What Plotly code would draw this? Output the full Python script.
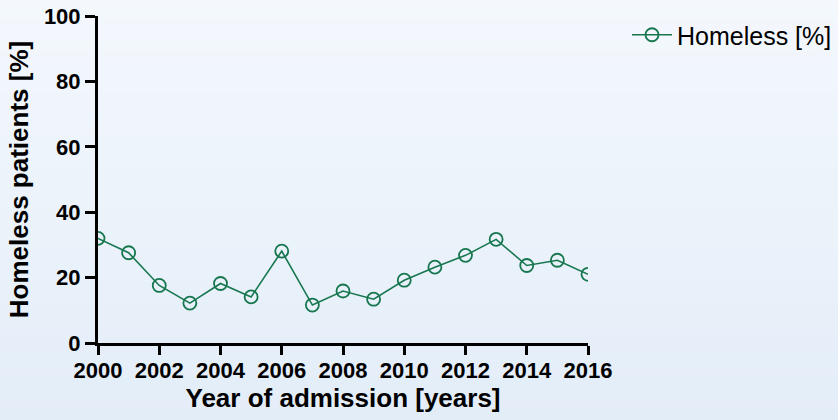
import plotly.graph_objects as go

years = list(range(2000, 2017))
homeless_pct = [32.0, 27.6, 17.6, 12.2, 18.2, 14.1, 28.1, 11.6, 15.9, 13.4,
                19.2, 23.2, 26.8, 31.7, 23.7, 25.3, 21.0]
x_ticks = list(range(2000, 2017, 2))
y_ticks = [0, 20, 40, 60, 80, 100]

GREEN = "#16774f"
FONT = "Liberation Sans, Arial, sans-serif"

fig = go.Figure()
fig.add_trace(go.Scatter(
    x=years, y=homeless_pct, mode="lines+markers", name="Homeless [%]",
    line=dict(color=GREEN, width=1.6),
    marker=dict(symbol="circle-open", size=13, color=GREEN, line=dict(width=1.8, color=GREEN)),
))

# background gradient as bands
W, H = 838, 420
L, R, T, B = 98, 250, 16, 77
pw, ph = W - L - R, H - T - B
n = 40
top = (244, 248, 253)
bot = (227, 237, 248)
shapes = []
for i in range(n):
    y0p = i * H / n
    y1p = (i + 1) * H / n
    f = (i + 0.5) / n
    c = tuple(round(top[k] + (bot[k] - top[k]) * f) for k in range(3))
    shapes.append(dict(
        type="rect", xref="paper", yref="paper", layer="below",
        x0=-L / pw - 0.01, x1=(W - L) / pw + 0.01,
        y0=(H - B - y1p) / ph - 0.005, y1=(H - B - y0p) / ph + 0.005,
        fillcolor="rgb(%d,%d,%d)" % c, line=dict(width=0),
    ))

fig.update_layout(
    width=W, height=H,
    margin=dict(l=L, r=R, t=T, b=B, autoexpand=False),
    paper_bgcolor="rgb(236,243,251)", plot_bgcolor="rgba(0,0,0,0)",
    shapes=shapes,
    font=dict(family=FONT, color="black"),
    showlegend=True,
    legend=dict(
        x=(627 - L) / pw, y=(H - B - 35) / ph, xanchor="left", yanchor="middle",
        font=dict(family=FONT, size=25, color="black"),
        bgcolor="rgba(0,0,0,0)", itemwidth=40,
    ),
    xaxis=dict(
        range=[2000, 2016], tickvals=x_ticks, ticktext=[str(v) for v in x_ticks],
        showgrid=False, zeroline=False, showline=True, linecolor="black", linewidth=3,
        ticks="outside", ticklen=9, tickwidth=3, tickcolor="black", automargin=False,
        ticklabelstandoff=-3,
        tickfont=dict(family=FONT, size=22, weight="bold"),
        title=dict(text="Year of admission [years]", font=dict(family=FONT, size=26, weight="bold"), standoff=7),
    ),
    yaxis=dict(
        range=[0, 100], tickvals=y_ticks,
        showgrid=False, zeroline=False, showline=True, linecolor="black", linewidth=3,
        ticks="outside", ticklen=10, tickwidth=3, tickcolor="black", automargin=False,
        tickfont=dict(family=FONT, size=22, weight="bold"),
        title=dict(text="Homeless patients [%]", font=dict(family=FONT, size=26, weight="bold"), standoff=8),
    ),
)

fig.write_html("out.html")
